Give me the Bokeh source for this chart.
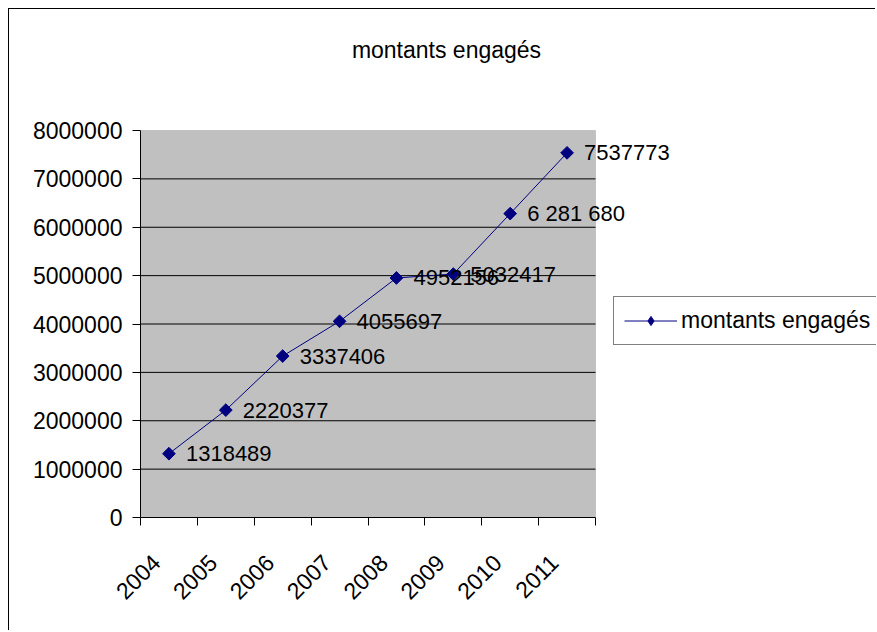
import math
import numpy as np
from bokeh.plotting import figure
from bokeh.models import (ColumnDataSource, Range1d, FixedTicker, BasicTickFormatter,
                          Legend, LegendItem, Label, BoxAnnotation)
from bokeh.core.properties import value
from bokeh.embed import file_html
from bokeh.resources import INLINE

years = ["2004", "2005", "2006", "2007", "2008", "2009", "2010", "2011"]
amounts = [1318489, 2220377, 3337406, 4055697, 4952156, 5032417, 6281680, 7537773]
amount_labels = ["1318489", "2220377", "3337406", "4055697", "4952156", "5032417", "6 281 680", "7537773"]
y_ticks = [0, 1000000, 2000000, 3000000, 4000000, 5000000, 6000000, 7000000, 8000000]
title_text = "montants engagés"
series_name = "montants engagés"

FONT = "Liberation Sans"
NAVY = "#000080"

# layout in pixels
W, H = 867, 622
LEFT, BOTTOM = 131, 114
AREA_W, AREA_H = 455, 387          # size of the grey plot area
FRAME_W, FRAME_H = W - LEFT, H - BOTTOM
LABEL_SHIFT_PX = 13                # rotated year labels sit a little left of centre

n = len(years)
y_max = y_ticks[-1]
xpos = [i + 0.5 for i in range(n)]
src = ColumnDataSource(dict(x=xpos, y=amounts, lab=amount_labels))

p = figure(width=W, height=H,
           x_range=Range1d(0, n * FRAME_W / AREA_W),
           y_range=Range1d(0, y_max * FRAME_H / AREA_H),
           output_backend="svg", toolbar_location=None,
           min_border_left=LEFT, min_border_top=0, min_border_right=0, min_border_bottom=BOTTOM,
           background_fill_color="white", border_fill_color="white",
           outline_line_color=None, margin=(8, 0, 0, 8))
p.styles = {"border-left": "1px solid black", "border-top": "1px solid black"}
p.xgrid.visible = False
p.ygrid.visible = False

# grey plot area
p.add_layout(BoxAnnotation(left=0, right=n, bottom=0, top=y_max, level="image",
                           fill_color="#C0C0C0", fill_alpha=1.0,
                           line_color="#808080", line_width=1))
# horizontal grid lines
p.segment(x0=0, x1=n, y0=y_ticks[1:-1], y1=y_ticks[1:-1], line_color="black",
          line_width=1, level="underlay")

# x axis
shift = LABEL_SHIFT_PX * n / AREA_W
label_ticks = [xp - shift for xp in xpos]
p.xaxis.bounds = (0, n)
p.xaxis.ticker = FixedTicker(ticks=label_ticks, minor_ticks=list(range(n + 1)))
p.xaxis.major_label_overrides = {t: yr for t, yr in zip(label_ticks, years)}
p.xaxis.major_tick_in = 0
p.xaxis.major_tick_out = 0
p.xaxis.minor_tick_in = 0
p.xaxis.minor_tick_out = 8
p.xaxis.minor_tick_line_color = "black"
p.xaxis.axis_line_color = "black"
p.xaxis.major_label_orientation = math.pi / 4
p.xaxis.major_label_standoff = 33
p.xaxis.major_label_text_font = FONT
p.xaxis.major_label_text_font_size = "23px"
p.xaxis.major_label_text_color = "black"

# y axis
p.yaxis.bounds = (0, y_max)
p.yaxis.ticker = FixedTicker(ticks=y_ticks, minor_ticks=[])
p.yaxis.formatter = BasicTickFormatter(use_scientific=False)
p.yaxis.major_tick_in = 0
p.yaxis.major_tick_out = 8
p.yaxis.major_tick_line_color = "black"
p.yaxis.axis_line_color = "black"
p.yaxis.major_label_standoff = 10
p.yaxis.major_label_text_font = FONT
p.yaxis.major_label_text_font_size = "23px"
p.yaxis.major_label_text_color = "black"

line_r = p.line("x", "y", source=src, line_color=NAVY, line_width=1)
pts_r = p.scatter("x", "y", source=src, marker="square", angle=math.pi / 4, size=9,
                  fill_color=NAVY, line_color=NAVY)
p.text("x", "y", text="lab", source=src, x_offset=17, text_baseline="middle",
       text_font=value(FONT), text_font_size="22px", text_color="black")

# legend-only swatch: a marker renderer with no plottable position
proxy_src = ColumnDataSource(dict(x=np.array([np.nan]), y=np.array([np.nan])))
legend_marker = p.scatter("x", "y", source=proxy_src, marker="diamond", size=11,
                          fill_color=NAVY, line_color=NAVY)
legend = Legend(items=[LegendItem(label=series_name, renderers=[line_r, legend_marker])],
                location=(473, 172), border_line_color="black", border_line_width=1,
                background_fill_color="white", background_fill_alpha=1.0,
                label_text_font=FONT, label_text_font_size="23px", label_text_color="black",
                glyph_width=53, glyph_height=23, label_standoff=4, padding=10,
                spacing=0, margin=0)
p.add_layout(legend)

p.add_layout(Label(x=306, y=468, x_units="screen", y_units="screen", text=title_text,
                   text_align="center", text_baseline="middle",
                   text_font=FONT, text_font_size="23px", text_color="black"))

open("out.html", "w").write(file_html(p, INLINE))
